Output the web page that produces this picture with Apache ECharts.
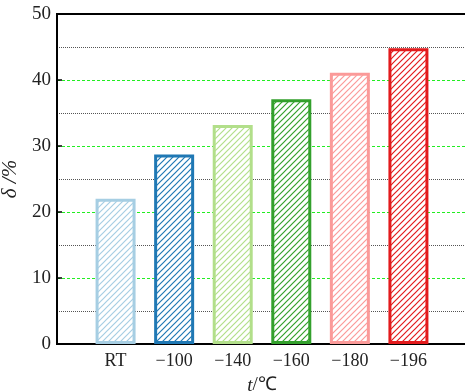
<!DOCTYPE html>
<html><head><meta charset="utf-8">
<script src="https://cdn.jsdelivr.net/npm/echarts@6/dist/echarts.min.js"></script>
<style>html,body{margin:0;padding:0;background:#fff}#c{width:465px;height:392px}</style>
</head><body><div id="c"></div>
<script>
const categories = ['RT', '\u2212100', '\u2212140', '\u2212160', '\u2212180', '\u2212196'];
const values = [22.0, 28.7, 33.2, 37.1, 41.1, 44.8];
const colors = ['#a6cee3', '#1f78b4', '#b2df8a', '#33a02c', '#fb9a99', '#e31a1c'];
const yTicks = [0, 10, 20, 30, 40, 50];

function hatch(color) {
  const s = 6;
  const c = document.createElement('canvas');
  c.width = s; c.height = s;
  const g = c.getContext('2d');
  g.fillStyle = '#fff'; g.fillRect(0, 0, s, s);
  g.strokeStyle = color; g.lineWidth = 1.2;
  g.beginPath();
  g.moveTo(-1, s + 1); g.lineTo(s + 1, -1);
  g.moveTo(-1, 1); g.lineTo(1, -1);
  g.moveTo(s - 1, s + 1); g.lineTo(s + 1, s - 1);
  g.stroke();
  return { image: c, repeat: 'repeat' };
}

const chart = echarts.init(document.getElementById('c'), null, { renderer: 'canvas' });
const font = '"Liberation Serif", "Times New Roman", serif';
chart.setOption({
  animation: false,
  grid: { left: 57, top: 14, bottom: 48, right: -2, outerBoundsMode: 'none', containLabel: false,
    show: true, borderColor: '#000', borderWidth: 2, backgroundColor: 'transparent' },
  xAxis: {
    type: 'value', min: 0, max: categories.length + 1, interval: 1,
    axisLine: { lineStyle: { color: '#000', width: 2 } },
    axisTick: { inside: true, length: 5, lineStyle: { color: '#000', width: 1.5 } },
    splitLine: { show: false },
    axisLabel: {
      color: '#222', fontFamily: font, fontSize: 18, margin: 8,
      formatter: v => (v >= 1 && v <= categories.length) ? categories[v - 1] : ''
    },
    name: '{i|t}/\u2103', nameLocation: 'middle', nameGap: 32,
    nameTextStyle: { fontFamily: font, fontSize: 19, color: '#222',
      rich: { i: { fontStyle: 'italic', fontFamily: font, fontSize: 19, color: '#222' } } }
  },
  yAxis: {
    type: 'value', min: yTicks[0], max: yTicks[yTicks.length - 1], interval: 10,
    axisLine: { show: true, lineStyle: { color: '#000', width: 2 } },
    axisTick: { show: true, inside: true, length: 5, lineStyle: { color: '#000', width: 1.5 } },
    axisLabel: { color: '#222', fontFamily: font, fontSize: 19, margin: 6 },
    splitLine: { show: true, showMinLine: false, showMaxLine: false, lineStyle: { color: '#22ee22', type: [3, 2], width: 1 } },
    minorTick: { show: false, splitNumber: 2 },
    minorSplitLine: { show: true, lineStyle: { color: '#555', type: [1, 1], width: 1 } },
    name: '\u03b4 /%', nameLocation: 'middle', nameGap: 31, nameRotate: 90,
    nameTextStyle: { fontFamily: font, fontSize: 21, fontStyle: 'italic', color: '#222' }
  },
  series: [{
    type: 'bar',
    barWidth: 40,
    data: values.map((v, i) => ({
      value: [i + 1, v],
      itemStyle: { color: hatch(colors[i]), borderColor: colors[i], borderWidth: 3 }
    })),
    z: 3
  }]
});
</script>
</body></html>
